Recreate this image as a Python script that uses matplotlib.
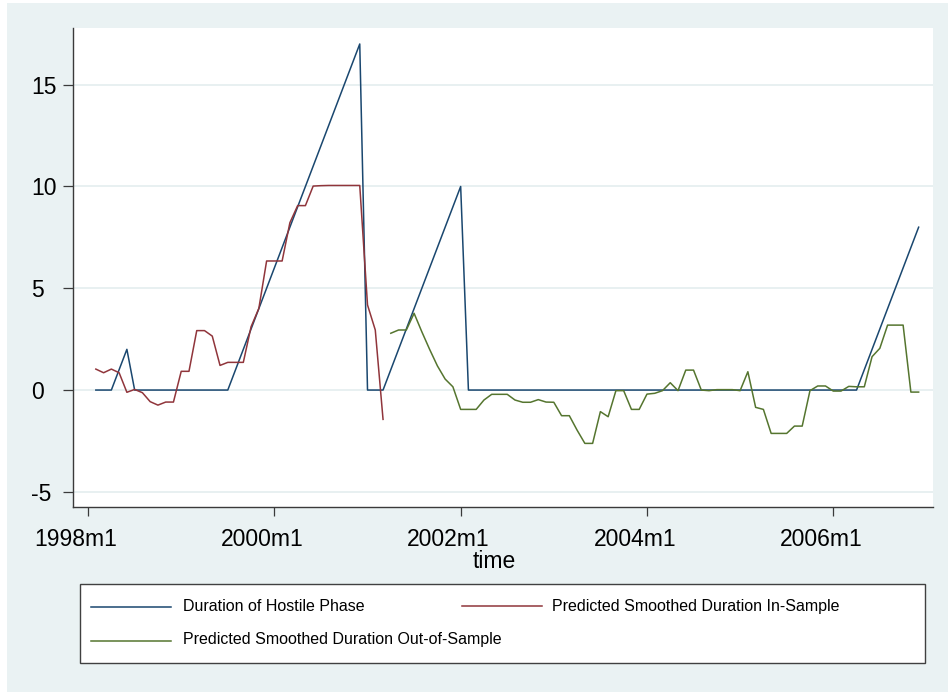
import matplotlib
matplotlib.use("Agg")
import matplotlib.pyplot as plt
import numpy as np
from matplotlib.lines import Line2D
from matplotlib.patches import Rectangle
from matplotlib.transforms import ScaledTranslation

plt.rcParams["font.family"] = ["Liberation Sans", "DejaVu Sans"]

# monthly series, time index = months since 1998m1
hostile_start = 1
hostile = [
    0, 0, 0, 1, 2, 0, 0, 0, 0, 0, 0, 0, 0, 0, 0, 0, 0,
    0, 1, 2, 3, 4, 5, 6, 7, 8, 9, 10, 11, 12, 13, 14, 15, 16, 17,
    0, 0,
    0, 1, 2, 3, 4, 5, 6, 7, 8, 9, 10,
    0, 0, 0, 0, 0, 0, 0, 0, 0, 0, 0, 0, 0, 0, 0, 0, 0, 0, 0, 0, 0, 0, 0, 0, 0,
    0, 0, 0, 0, 0, 0, 0, 0, 0, 0, 0, 0, 0, 0, 0, 0, 0, 0, 0, 0, 0, 0, 0, 0, 0,
    0, 1, 2, 3, 4, 5, 6, 7, 8,
]

insample_start = 1
insample = [
    1.03, 0.85, 1.03, 0.85, -0.11, 0.03, -0.13, -0.57, -0.74, -0.59,
    -0.59, 0.92, 0.92, 2.92, 2.92, 2.65, 1.21, 1.36, 1.36, 1.36,
    3.11, 4.01, 6.34, 6.34, 6.34, 8.22, 9.06, 9.06, 10.02, 10.04,
    10.05, 10.05, 10.05, 10.05, 10.05, 4.18, 2.95, -1.44,
]

outsample_start = 39
outsample = [
    2.79, 2.95, 2.95, 3.77, 2.86, 2.00, 1.19, 0.54, 0.16, -0.95,
    -0.95, -0.95, -0.49, -0.21, -0.21, -0.21, -0.49, -0.60, -0.60, -0.47,
    -0.59, -0.60, -1.26, -1.26, -1.97, -2.62, -2.62, -1.06, -1.31, -0.03,
    -0.03, -0.95, -0.95, -0.20, -0.16, -0.03, 0.36, -0.03, 0.98, 0.98,
    0.00, -0.03, 0.02, 0.02, 0.02, -0.03, 0.90, -0.85, -0.95, -2.13,
    -2.13, -2.13, -1.77, -1.77, -0.03, 0.20, 0.20, -0.05, -0.05, 0.18,
    0.16, 0.16, 1.64, 2.05, 3.19, 3.19, 3.19, -0.10, -0.10,
]

series_labels = [
    "Duration of Hostile Phase",
    "Predicted Smoothed Duration In-Sample",
    "Predicted Smoothed Duration Out-of-Sample",
]

x_ticks = [0, 24, 48, 72, 96]
x_ticklabels = ["1998m1", "2000m1", "2002m1", "2004m1", "2006m1"]
y_ticks = [-5, 0, 5, 10, 15]

NAVY = "#1a476f"
MAROON = "#90353b"
FOREST = "#55752f"
BG = "#eaf2f3"
GRID = "#e4edef"

W, H = 948, 692


def fx(px):
    return px / W


def fy(py):
    return 1 - py / H


fig = plt.figure(figsize=(W / 100, H / 100), dpi=100, facecolor="white")
fig.patches.append(Rectangle((fx(7), 0), 1 - fx(7), fy(3), transform=fig.transFigure,
                             facecolor=BG, edgecolor="none", zorder=-10))

ax = fig.add_axes([fx(72.7), fy(506.7), fx(933) - fx(72.7), fy(28.3) - fy(506.7)])
ax.set_facecolor("white")

t_host = np.arange(len(hostile)) + hostile_start
t_in = np.arange(len(insample)) + insample_start
t_out = np.arange(len(outsample)) + outsample_start

l1, = ax.plot(t_host, hostile, color=NAVY, lw=1.1, zorder=3)
l2, = ax.plot(t_in, insample, color=MAROON, lw=1.1, zorder=3)
l3, = ax.plot(t_out, outsample, color=FOREST, lw=1.1, zorder=3)

ax.set_xlim(-1.98, 108.85)
ax.set_ylim(-5.73, 17.77)

ax.set_yticks(y_ticks)
ax.set_yticklabels([str(v) for v in y_ticks])
ax.set_xticks(x_ticks)
ax.set_xticklabels(x_ticklabels)

ax.yaxis.grid(True, color=GRID, lw=1.2)
ax.set_axisbelow(True)

for side in ["top", "right"]:
    ax.spines[side].set_visible(False)
for side in ["left", "bottom"]:
    ax.spines[side].set_color("#3a3a3a")
    ax.spines[side].set_linewidth(1.0)

ax.tick_params(axis="y", direction="out", length=7.2, width=0.9, color="#3a3a3a",
               labelsize=16.5, pad=22.8)
ax.tick_params(axis="x", direction="out", length=6.5, width=0.9, color="#3a3a3a",
               labelsize=16.5, pad=8.6)
for lab in ax.get_yticklabels():
    lab.set_horizontalalignment("left")
shift = ScaledTranslation(-12 / 100, 0, fig.dpi_scale_trans)
for lab in ax.get_xticklabels():
    lab.set_transform(lab.get_transform() + shift)

fig.text(fx(494), fy(568.3), "time", fontsize=16.5, ha="center", va="baseline")

# legend box
fig.patches.append(Rectangle((fx(80.3), fy(662.7)), fx(925.3) - fx(80.3), fy(584.3) - fy(662.7),
                             transform=fig.transFigure, facecolor="white",
                             edgecolor="#404040", lw=1.0, zorder=2))
entries = [
    (l1, 90.7, 170.7, 183.3, 607.3, 610.6),
    (l2, 462.0, 542.0, 552.0, 605.5, 610.6),
    (l3, 90.7, 170.7, 183.3, 640.7, 643.8),
]
for (line, x0, x1, xt, yl, yb), label in zip(entries, series_labels):
    fig.lines.append(Line2D([fx(x0), fx(x1)], [fy(yl), fy(yl)], transform=fig.transFigure,
                            color=line.get_color(), lw=1.1, zorder=3))
    fig.text(fx(xt), fy(yb), label, fontsize=11.5, ha="left", va="baseline", zorder=3)

fig.savefig("out.png", dpi=100, facecolor=fig.get_facecolor())
